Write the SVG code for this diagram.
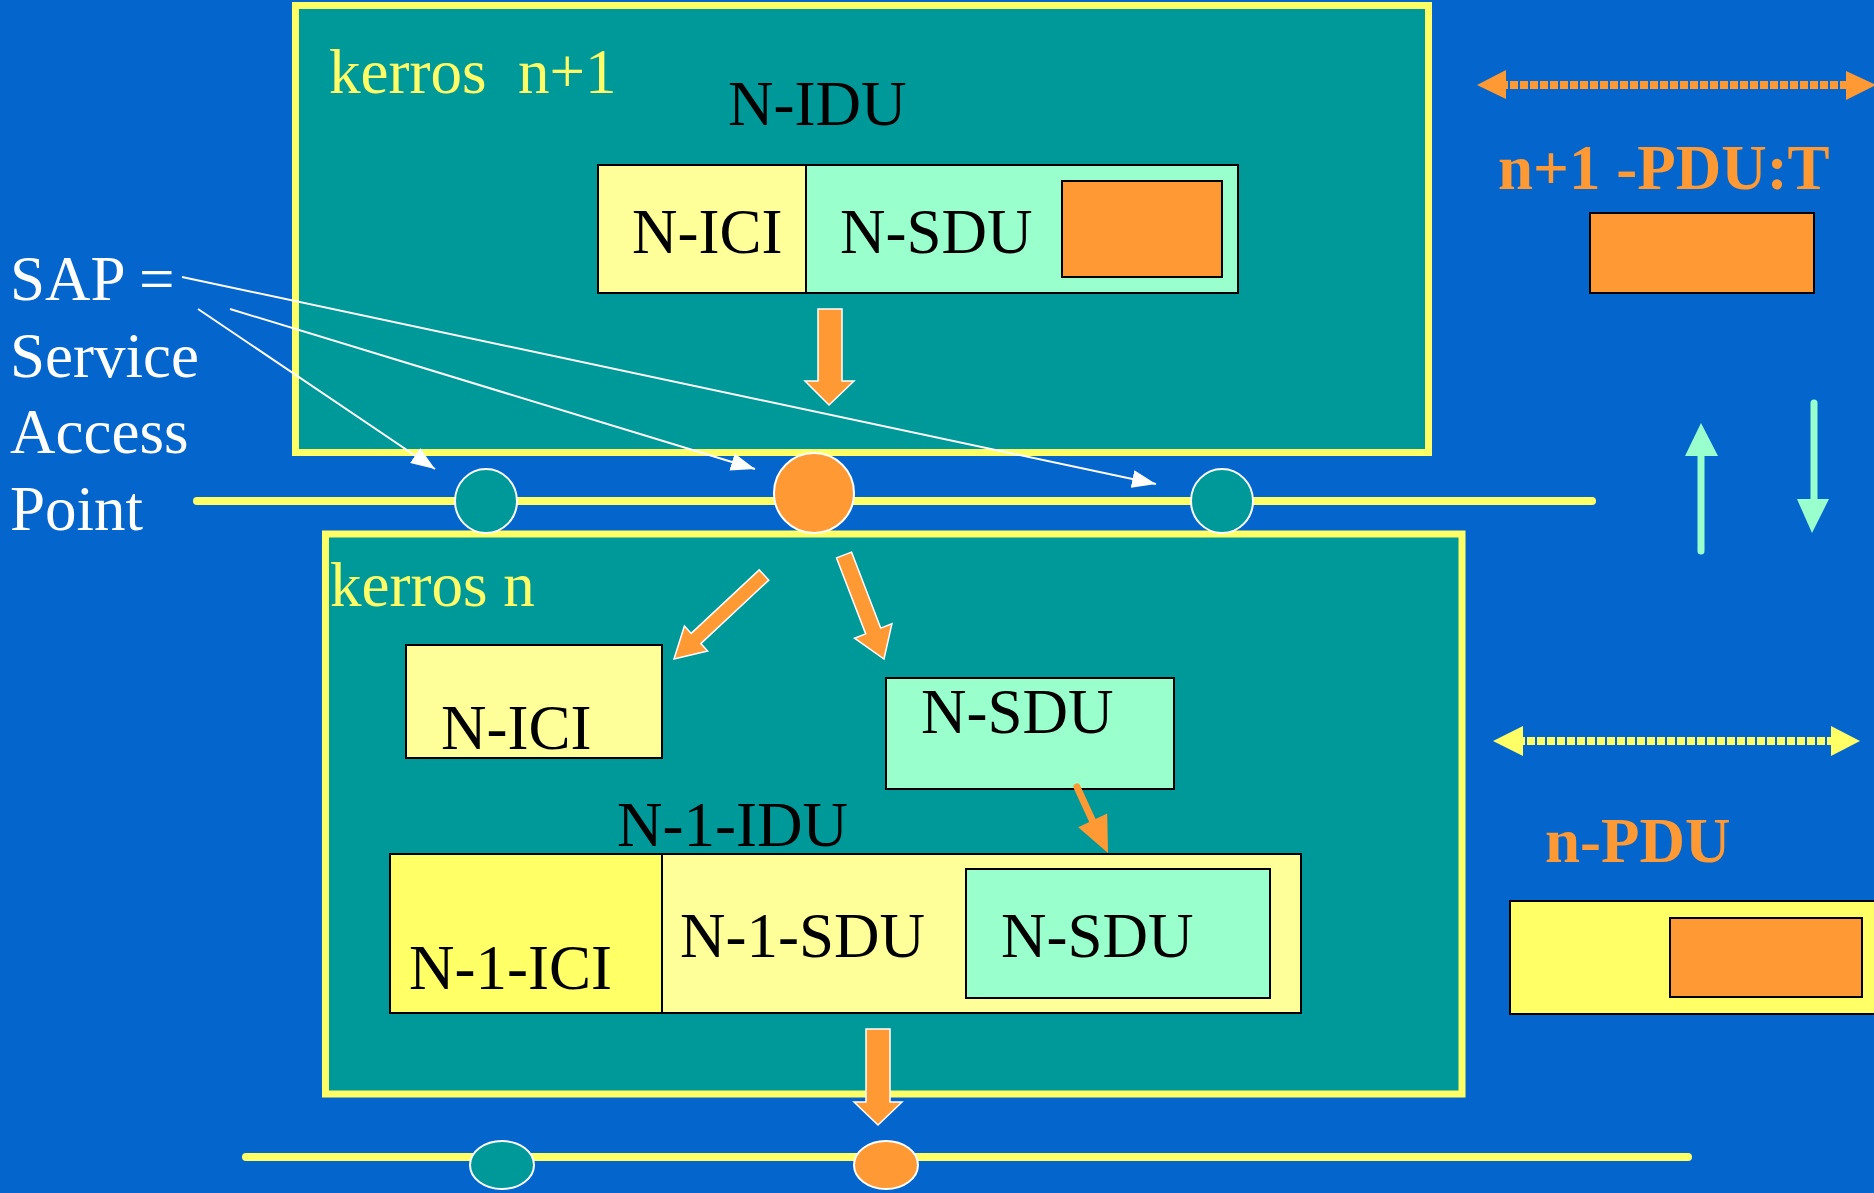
<svg xmlns="http://www.w3.org/2000/svg" width="1874" height="1193" viewBox="0 0 1874 1193">
<style>
text{font-family:"Liberation Serif","Times New Roman",serif;font-size:63px}
.blk{fill:#000}
.yel{fill:#FFFF66}
.wht{fill:#fff}
.org{fill:#FF9933;font-weight:bold}
.layer{fill:#009999;stroke:#FFFF66;stroke-width:7}
.box{stroke:#000;stroke-width:2}
.barrow{fill:#FF9933;stroke:#fff;stroke-width:1.5}
.wline{stroke:#fff;stroke-width:2;fill:none}
.bus{stroke:#FFFF66;stroke-width:8;stroke-linecap:round}
.sap{stroke:#fff;stroke-width:2}
</style>
<defs>
<marker id="wa" markerUnits="userSpaceOnUse" markerWidth="26" markerHeight="18" refX="24" refY="9" orient="auto">
<path d="M0,0 L24,9 L0,18 Z" fill="#fff"/>
</marker>
</defs>
<rect x="0" y="0" width="1874" height="1193" fill="#0466CC"/>

<g id="layer-n1">
<rect class="layer" x="295.5" y="5.5" width="1133" height="447"/>
<text class="yel" x="329" y="93" xml:space="preserve">kerros  n+1</text>
<text class="blk" x="728" y="125">N-IDU</text>
</g>

<g id="layer-n">
<rect class="layer" x="325.5" y="534" width="1136.5" height="560"/>
<text class="yel" x="330" y="606">kerros n</text>
</g>

<g id="n-idu">
<rect class="box" x="598" y="165" width="208" height="128" fill="#FFFF99"/>
<rect class="box" x="806" y="165" width="432" height="128" fill="#99FFCC"/>
<rect class="box" x="1062" y="181" width="160" height="96" fill="#FF9933"/>
<text class="blk" x="632" y="253">N-ICI</text>
<text class="blk" x="840" y="253">N-SDU</text>
</g>

<g id="n-ici-low">
<rect class="box" x="406" y="645" width="256" height="113" fill="#FFFF99"/>
<text class="blk" x="441" y="749">N-ICI</text>
</g>

<g id="n-sdu-low">
<rect class="box" x="886" y="678" width="288" height="111" fill="#99FFCC"/>
<text class="blk" x="921" y="733">N-SDU</text>
</g>

<g id="n1-idu">
<text class="blk" x="617" y="846">N-1-IDU</text>
<rect class="box" x="390" y="854" width="272" height="159" fill="#FFFF66"/>
<rect class="box" x="662" y="854" width="639" height="159" fill="#FFFF99"/>
<rect class="box" x="966" y="869" width="304" height="129" fill="#99FFCC"/>
<text class="blk" x="409" y="989">N-1-ICI</text>
<text class="blk" x="680" y="957">N-1-SDU</text>
<text class="blk" x="1001" y="957">N-SDU</text>
</g>

<g id="sap-label">
<text class="wht" x="10" y="300">SAP =</text>
<text class="wht" x="10" y="377">Service</text>
<text class="wht" x="10" y="453">Access</text>
<text class="wht" x="10" y="530">Point</text>
</g>

<g id="buses">
<line class="bus" x1="197" y1="501" x2="1592" y2="501"/>
<line class="bus" x1="246" y1="1157" x2="1688" y2="1157"/>
</g>

<g id="saps">
<ellipse cx="486" cy="501" rx="31" ry="32" fill="#009999" class="sap"/>
<ellipse cx="814" cy="493" rx="40" ry="40" fill="#FF9933" class="sap"/>
<ellipse cx="1222" cy="501" rx="31" ry="32" fill="#009999" class="sap"/>
<ellipse cx="502" cy="1165" rx="32" ry="24" fill="#009999" class="sap"/>
<ellipse cx="886" cy="1165" rx="32" ry="24" fill="#FF9933" class="sap"/>
</g>

<g id="right-side">
<text class="org" x="1498" y="189">n+1 -PDU:T</text>
<rect class="box" x="1590" y="213" width="224" height="80" fill="#FF9933"/>
<text class="org" x="1545" y="862">n-PDU</text>
<rect class="box" x="1510" y="901" width="370" height="113" fill="#FFFF66"/>
<rect class="box" x="1670" y="918" width="192" height="79" fill="#FF9933"/>
</g>

<g id="connectors">
<line class="wline" x1="182" y1="277" x2="1156" y2="484" marker-end="url(#wa)"/>
<line class="wline" x1="230" y1="309" x2="755" y2="469" marker-end="url(#wa)"/>
<line class="wline" x1="198" y1="309" x2="435" y2="469" marker-end="url(#wa)"/>

<polygon class="barrow" points="818,309 842,309 842,381 854,381 829,405 805,381 818,381"/>
<polygon class="barrow" points="768.8,580.1 700.8,643.6 707.6,651 674,659 684.4,626 691.2,633.4 759.2,569.9"/>
<polygon class="barrow" points="851.5,552.1 880.7,628.1 891.9,623.8 884,659 854.5,638.2 865.7,633.9 836.5,557.9"/>
<line x1="1077" y1="787" x2="1094" y2="824" stroke="#FF9933" stroke-width="7" stroke-linecap="round"/>
<polygon points="1107.2,813.6 1108,853 1078.2,827.2" fill="#FF9933"/>
<polygon class="barrow" points="866,1029 890,1029 890,1102 902,1102 878,1125 854,1102 866,1102"/>

<line x1="1500" y1="85" x2="1850" y2="85" stroke="#FF9933" stroke-width="8" stroke-dasharray="8 2"/>
<polygon points="1477,85 1506,70 1506,99" fill="#FF9933"/>
<polygon points="1846,71 1876,85 1846,100" fill="#FF9933"/>

<line x1="1517" y1="741" x2="1836" y2="741" stroke="#FFFF66" stroke-width="8" stroke-dasharray="8 2"/>
<polygon points="1493,741 1523,726 1523,756" fill="#FFFF66"/>
<polygon points="1831,726 1860,741 1831,756" fill="#FFFF66"/>

<line x1="1701" y1="551" x2="1701" y2="452" stroke="#99FFCC" stroke-width="7" stroke-linecap="round"/>
<polygon points="1685,456 1701,423 1718,456" fill="#99FFCC"/>
<line x1="1814" y1="403" x2="1814" y2="502" stroke="#99FFCC" stroke-width="7" stroke-linecap="round"/>
<polygon points="1797,499 1812,533 1829,499" fill="#99FFCC"/>
</g>
</svg>
